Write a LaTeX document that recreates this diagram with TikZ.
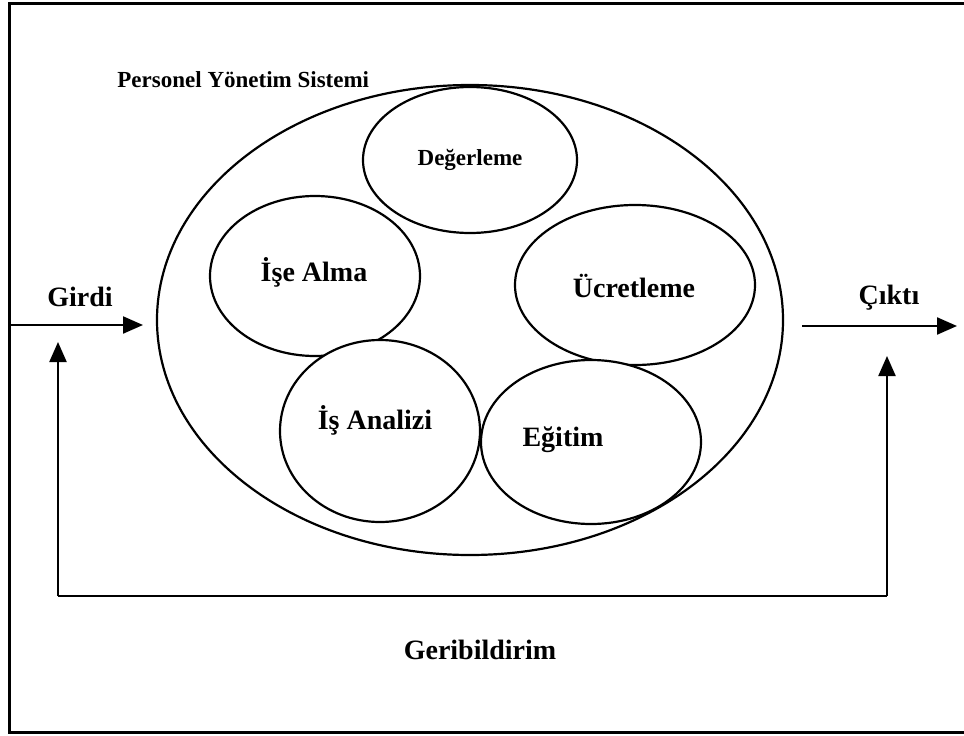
\documentclass[tikz,border=0pt]{standalone}
\usepackage{fontspec}
\setmainfont{Liberation Serif}
\usetikzlibrary{shapes.geometric,arrows.meta}
\begin{document}
\begin{tikzpicture}[x=1pt,y=-1pt,
  line width=2.2pt,
  bigtxt/.style={font=\bfseries\fontsize{28}{30}\selectfont},
  smalltxt/.style={font=\bfseries\fontsize{23}{25}\selectfont},
  oval/.style={draw,ellipse,inner sep=0pt,fill=white},
  flow/.style={-{Triangle[length=20pt,width=17pt]}}]
\useasboundingbox (0,0) rectangle (964,736);
\begin{scope}
\clip (0,0) rectangle (964,736);
\draw[line width=3pt] (9,3) rectangle (980,732);
\end{scope}

% system boundary
\node[oval,minimum width=626pt,minimum height=470pt] (sys) at (470,320) {};
\node[smalltxt,anchor=west] (title) at (113,80) {Personel Yönetim Sistemi};

% subsystems
\node[oval,minimum width=214pt,minimum height=146pt] (deg) at (470,160) {};
\node[smalltxt] at (deg.center) {Değerleme};
\node[oval,minimum width=210pt,minimum height=160pt] (ise) at (315,276) {};
\node[bigtxt] at (314,272) {İşe Alma};
\node[oval,minimum width=240pt,minimum height=160pt] (ucr) at (635,285) {};
\node[bigtxt] at (634,286) {Ücretleme};
\node[oval,minimum width=200pt,minimum height=182pt] (isa) at (380,431) {};
\node[bigtxt] at (375,420) {İş Analizi};
\node[oval,minimum width=220pt,minimum height=164pt] (egt) at (591,442) {};
\node[bigtxt] at (563,440) {Eğitim};

% input and output
\coordinate (inS) at (9,325);
\coordinate (inE) at (143,325);
\coordinate (outS) at (802,326);
\coordinate (outE) at (957,326);
\draw[flow] (inS) -- (inE);
\draw[flow] (outS) -- (outE);
\node[bigtxt] (girdi) at (80,297) {Girdi};
\node[bigtxt] (cikti) at (889,298) {Çıktı};

% feedback loop
\coordinate (fbL) at (58,596);
\coordinate (fbR) at (887,596);
\coordinate (fbLtip) at (58,342);
\coordinate (fbRtip) at (887,356);
\draw[flow] (fbR) -- (fbRtip);
\draw[flow] (fbL) -- (fbLtip);
\draw (fbL) -- (fbR);
\node[bigtxt] (geri) at (480,650) {Geribildirim};
\end{tikzpicture}
\end{document}
